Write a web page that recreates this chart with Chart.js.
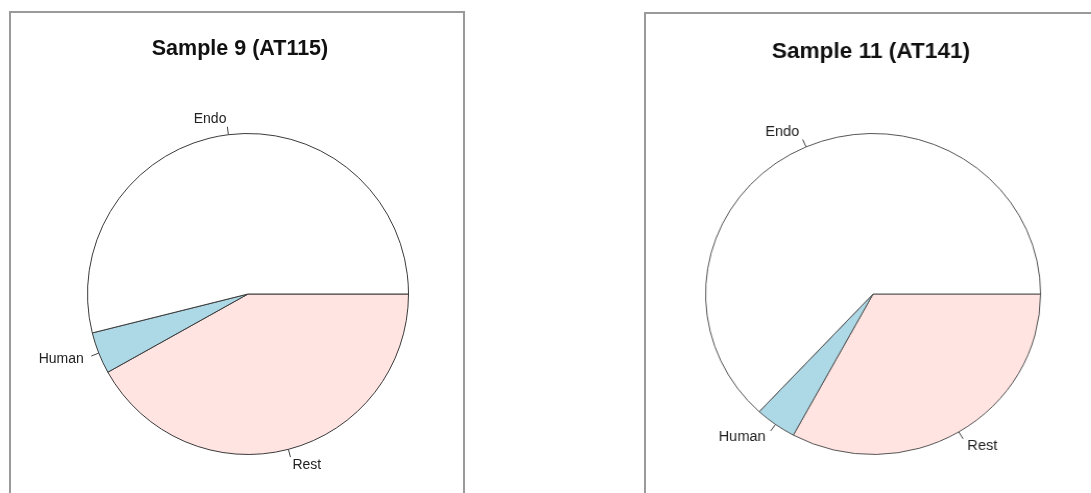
<!DOCTYPE html>
<html>
<head>
<meta charset="utf-8">
<script src="https://cdn.jsdelivr.net/npm/chart.js@4"></script>
<style>
  body { margin: 0; width: 1091px; height: 493px; overflow: hidden; background: #fff; position: relative; }
  .box { position: absolute; border: 2px solid #9a9a9a; box-sizing: border-box; }
  canvas { position: absolute; top: 0; }
  #pie11 { transform: scaleX(1.0435); transform-origin: 0 0; }
</style>
</head>
<body>
<div class="box" style="left:9px; top:11px; width:456px; height:520px;"></div>
<div class="box" style="left:644px; top:12px; width:480px; height:520px;"></div>
<canvas id="pie9" width="480" height="493" style="left:0px;"></canvas>
<canvas id="pie11" width="509" height="493" style="left:560px;"></canvas>
<script>
// R pie order (counter-clockwise from 3 o'clock)
const categories = ['Endo', 'Human', 'Rest'];
const sliceColors = ['#ffffff', '#add8e6', '#ffe4e1'];
const sample9 = [53.9, 4.2, 41.9];
const sample11 = [63.1, 4.0, 32.9];

// labels with little tick lines, like R's pie()
const rLabels = {
    id: 'rLabels',
    afterDatasetsDraw(chart, args, opts) {
        const ctx = chart.ctx;
        const arcs = chart.getDatasetMeta(0).data;
        const labels = chart.data.labels;
        ctx.save();
        ctx.strokeStyle = '#444';
        ctx.lineWidth = 1;
        ctx.fillStyle = '#222';
        ctx.font = '14px "Liberation Sans", Arial, sans-serif';
        ctx.textBaseline = 'middle';
        arcs.forEach((arc, i) => {
            const mid = (arc.startAngle + arc.endAngle) / 2;
            const r = arc.outerRadius;
            const c = Math.cos(mid), s = Math.sin(mid);
            ctx.beginPath();
            ctx.moveTo(arc.x + c * r, arc.y + s * r);
            ctx.lineTo(arc.x + c * r * 1.05, arc.y + s * r * 1.05);
            ctx.stroke();
            ctx.textAlign = c > 0 ? 'left' : 'right';
            ctx.fillText(labels[i], arc.x + c * r * 1.1, arc.y + s * r * 1.1);
        });
        // title
        ctx.font = 'bold ' + opts.titleSize + 'px "Liberation Sans", Arial, sans-serif';
        ctx.fillStyle = '#111';
        ctx.textAlign = 'center';
        ctx.fillText(opts.title, opts.titleX, opts.titleY);
        ctx.restore();
    }
};

function makePie(id, values, title, pad, titlePos, edge) {
    // Chart.js goes clockwise, so reverse to mimic R's counter-clockwise order
    const labels = categories.slice().reverse();
    const data = values.slice().reverse();
    const colors = sliceColors.slice().reverse();
    new Chart(document.getElementById(id), {
        type: 'pie',
        data: {
            labels: labels,
            datasets: [{
                data: data,
                backgroundColor: colors,
                borderColor: edge,
                borderWidth: 1,
                hoverOffset: 0
            }]
        },
        options: {
            responsive: false,
            animation: false,
            rotation: 90,
            layout: { padding: pad },
            plugins: {
                legend: { display: false },
                tooltip: { enabled: false },
                rLabels: { title: title, titleX: titlePos[0], titleY: titlePos[1], titleSize: titlePos[2] }
            }
        },
        plugins: [rLabels]
    });
}

makePie('pie9', sample9, 'Sample 9 (AT115)', { left: 87, top: 133, right: 71, bottom: 38 }, [240, 49, 21.5], '#3a3a3a');
makePie('pie11', sample11, 'Sample 11 (AT141)', { left: 139, top: 133, right: 48, bottom: 38 }, [298, 52, 21.7], '#555555');
</script>
</body>
</html>
